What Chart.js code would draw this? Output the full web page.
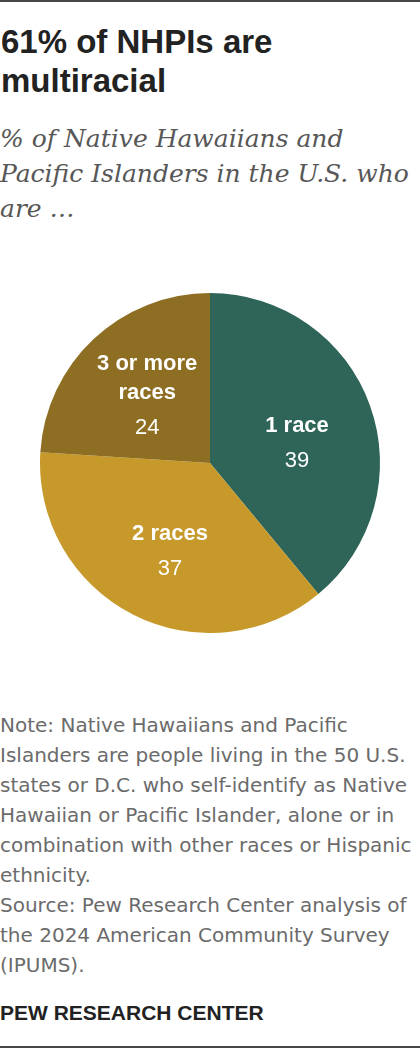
<!DOCTYPE html>
<html>
<head>
<meta charset="utf-8">
<script src="https://cdn.jsdelivr.net/npm/chart.js@4"></script>
<style>
  body { margin: 0; width: 420px; height: 1048px; position: relative; background: #fff; overflow: hidden; }
  .bar { position: absolute; left: 0; width: 420px; height: 2px; background: #474747; }
  h1 { position: absolute; left: 1px; top: 22px; width: 415px; margin: 0; font: bold 33px/39px "Liberation Sans", Arial, sans-serif; color: #222; }
  .sub { position: absolute; left: 0; top: 121px; width: 416px; margin: 0; font: italic 25px/35px "DejaVu Serif", Georgia, serif; color: #575757; }
  .chart { position: absolute; left: 0; top: 293px; width: 420px; height: 340px; }
  .note { position: absolute; left: 0; top: 710px; width: 420px; margin: 0; font: 20px/30px "DejaVu Sans", sans-serif; color: #6b6b6b; }
  .pew { position: absolute; left: 0; top: 1000px; margin: 0; font: bold 21px/26px "Liberation Sans", Arial, sans-serif; color: #222; }
</style>
</head>
<body>
<div class="bar" style="top:0"></div>
<h1>61% of NHPIs are multiracial</h1>
<p class="sub">% of Native Hawaiians and Pacific Islanders in the U.S. who are …</p>
<div class="chart"><canvas id="pie"></canvas></div>
<p class="note">Note: Native Hawaiians and Pacific Islanders are people living in the 50 U.S. states or D.C. who self-identify as Native Hawaiian or Pacific Islander, alone or in combination with other races or Hispanic ethnicity.<br>Source: Pew Research Center analysis of the 2024 American Community Survey (IPUMS).</p>
<p class="pew">PEW RESEARCH CENTER</p>
<div class="bar" style="top:1046px"></div>

<script>
var categories = [["1 race"], ["2 races"], ["3 or more", "races"]];
var shares = [39, 37, 24];
var colors = ["#2e6558", "#c6992a", "#8e6e22"];

// draw the label + value inside each slice
var sliceLabels = {
  id: "sliceLabels",
  afterDatasetsDraw: function(chart, args, opts) {
    var ctx = chart.ctx;
    var meta = chart.getDatasetMeta(0);
    meta.data.forEach(function(arc, i) {
      var p = opts.place[i];
      var mid = (arc.startAngle + arc.endAngle) / 2 + p[1] * Math.PI / 180;
      var r = arc.outerRadius * p[0];
      var x = arc.x + Math.cos(mid) * r;
      var y = arc.y + Math.sin(mid) * r;
      var lines = chart.data.labels[i];
      var span = 29 * (lines.length - 1) + 35;
      var top = y - span / 2;
      ctx.save();
      ctx.fillStyle = "#fff";
      ctx.textAlign = "center";
      ctx.textBaseline = "middle";
      ctx.font = "bold 22px 'Liberation Sans', Arial, sans-serif";
      lines.forEach(function(t, j) {
        ctx.fillText(t, x, top + j * 29);
      });
      ctx.font = "22px 'Liberation Sans', Arial, sans-serif";
      ctx.fillText(chart.data.datasets[0].data[i], x, top + 29 * (lines.length - 1) + 35);
      ctx.restore();
    });
  }
};

new Chart(document.getElementById("pie"), {
  type: "pie",
  data: {
    labels: categories,
    datasets: [{
      data: shares,
      backgroundColor: colors,
      borderWidth: 0
    }]
  },
  options: {
    responsive: true,
    maintainAspectRatio: false,
    animation: false,
    layout: { padding: 0 },
    plugins: {
      legend: { display: false },
      tooltip: { enabled: false },
      sliceLabels: { place: [[0.525, 7], [0.57, -2.6], [0.54, 0]] }
    }
  },
  plugins: [sliceLabels]
});
</script>
</body>
</html>
